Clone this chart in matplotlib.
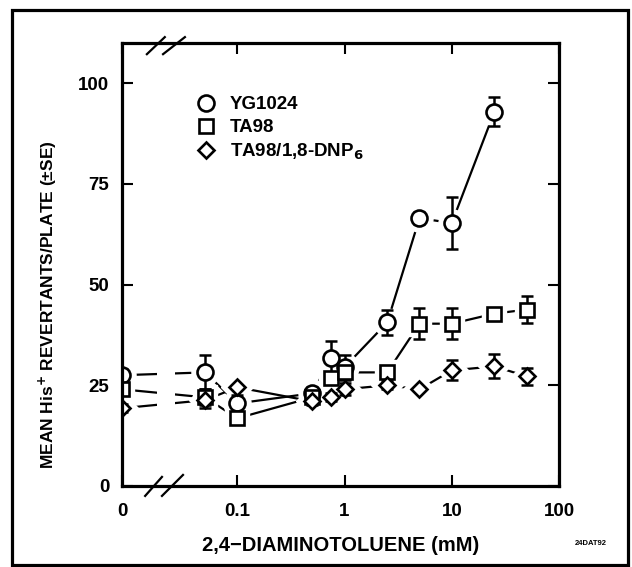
import matplotlib.pyplot as plt
from matplotlib.lines import Line2D
from matplotlib.patches import Rectangle

plt.rcParams['font.family'] = ['Liberation Sans', 'DejaVu Sans']
plt.rcParams['font.weight'] = 'bold'

# doses in mM (0 = control, drawn at the left edge of the log axis)
dose_yg = [0, 0.05, 0.1, 0.5, 0.75, 1, 2.5, 5, 10, 25]
mean_yg = [27.5, 28.2, 20.5, 23, 31.7, 29.5, 40.6, 66.5, 65.3, 93]
se_yg = [1.5, 4.2, 2, 1.5, 4.3, 2.9, 3, 1.5, 6.4, 3.5]

dose_ta = [0, 0.05, 0.1, 0.5, 0.75, 1, 2.5, 5, 10, 25, 50]
mean_ta = [24, 22, 16.8, 22, 26.7, 28.2, 28.2, 40.3, 40.3, 42.8, 43.8]
se_ta = [1.5, 2, 1, 1.5, 1.5, 2, 1.5, 3.8, 3.8, 0.5, 3.4]

dose_dnp = [0, 0.05, 0.1, 0.5, 0.75, 1, 2.5, 5, 10, 25, 50]
mean_dnp = [19.3, 21.3, 24.5, 21, 22, 24, 25, 24, 28.7, 29.7, 27.2]
se_dnp = [1, 2, 0.5, 1, 1, 1.5, 1, 0.5, 2.5, 3, 2.2]

x_ticks = [0, 0.1, 1, 10, 100]
x_tick_labels = ['0', '0.1', '1', '10', '100']
y_ticks = [0, 25, 50, 75, 100]

ZERO_POS = 0.0084  # where dose 0 sits on the broken log axis

fig = plt.figure(figsize=(6.32, 5.67), dpi=100)
ax = fig.add_axes([0.193, 0.143, 0.6915, 0.781])
ax.set_xscale('log')


def xpos(d):
    return [ZERO_POS if v == 0 else v for v in d]


series = [
    (dose_yg, mean_yg, se_yg, 'o', 11.5, 'YG1024'),
    (dose_ta, mean_ta, se_ta, 's', 9.5, 'TA98'),
    (dose_dnp, mean_dnp, se_dnp, 'D', 8, 'TA98/1,8-DNP$_6$'),
]

handles = []
for d, m, e, mk, ms, lab in series:
    x = xpos(d)
    ax.plot(x, m, color='black', lw=1.6, zorder=2)
    # white halo so the lines stop short of the symbols
    ax.plot(x, m, ls='none', marker=mk, ms=ms + 8, mfc='white', mec='white', zorder=3)
    ax.errorbar(x, m, yerr=e, fmt='none', ecolor='black', elinewidth=1.8,
                capsize=4, capthick=1.8, zorder=4)
    h, = ax.plot(x, m, ls='none', marker=mk, ms=ms, mfc='white', mec='black',
                 mew=1.9, zorder=5, label=lab)
    handles.append(h)

# gap in the lines at the axis break
ax.add_patch(Rectangle((0.08, 0.005), 0.041, 0.99, transform=ax.transAxes,
                       facecolor='white', edgecolor='none', zorder=2.2))

ax.set_xlim(ZERO_POS, 100)
ax.set_ylim(0, 110)
ax.set_xticks([ZERO_POS if v == 0 else v for v in x_ticks])
ax.set_xticklabels(x_tick_labels)
ax.xaxis.set_minor_locator(plt.NullLocator())
ax.set_yticks(y_ticks)
ax.tick_params(direction='in', length=8, width=1.5, top=True, right=True,
               labelsize=13.5, pad=9)
ax.tick_params(axis='x', pad=12)
for sp in ax.spines.values():
    sp.set_linewidth(2.3)
    sp.set_zorder(6)

ax.set_xlabel('2,4\u2212DIAMINOTOLUENE (mM)', fontsize=14.5, fontweight='bold', labelpad=12)
ax.set_ylabel('MEAN His$^{+}$ REVERTANTS/PLATE (\u00b1SE)', fontsize=12.5,
              fontweight='bold')
ax.yaxis.set_label_coords(-0.145, 0.41)

# break marks
kw = dict(transform=ax.transAxes, color='black', lw=1.6, clip_on=False, zorder=7)
ax.add_line(Line2D([0.057, 0.098], [0.975, 1.0135], **kw))
ax.add_line(Line2D([0.094, 0.144], [0.975, 1.0135], **kw))
ax.add_line(Line2D([0.053, 0.0915], [-0.0226, 0.0203], **kw))
ax.add_line(Line2D([0.0915, 0.1396], [-0.0226, 0.0248], **kw))

leg = ax.legend(handles=handles, loc='upper left', bbox_to_anchor=(0.17, 0.88),
                frameon=False, fontsize=13.5, handlelength=1.0, handletextpad=0.8,
                labelspacing=0.3, borderpad=0, borderaxespad=0)
for t in leg.get_texts():
    t.set_fontweight('bold')

fig.text(0.935, 0.042, '24DAT92', fontsize=5.5, fontweight='bold', ha='center', va='center')

fig.patches.append(Rectangle((0.019, 0.004), 0.975, 0.978, transform=fig.transFigure,
                             fill=False, edgecolor='black', lw=2.3))

fig.savefig('out.png', dpi=100)
